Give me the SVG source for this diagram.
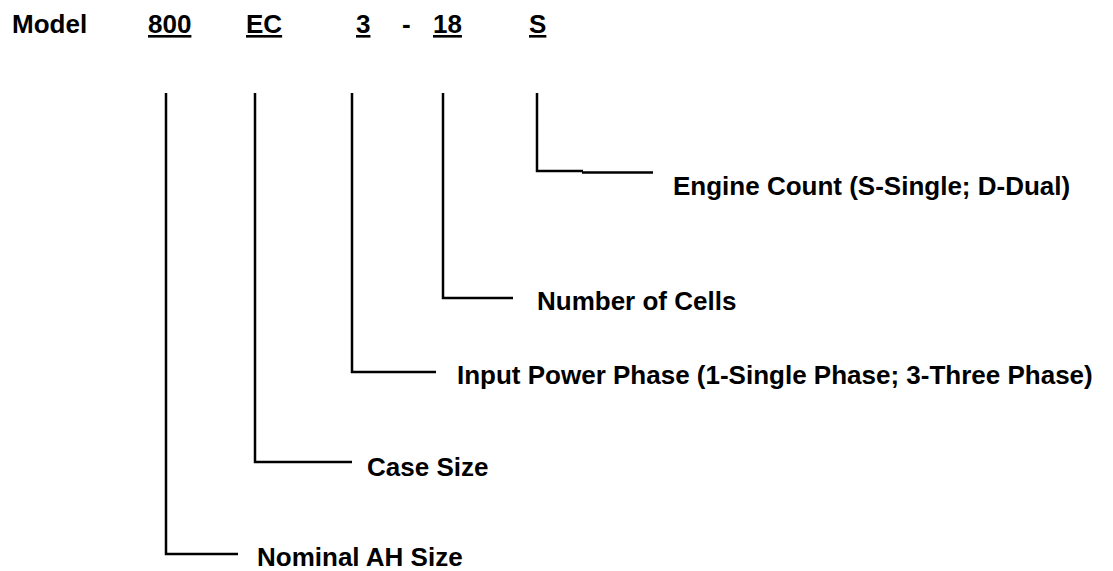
<svg xmlns="http://www.w3.org/2000/svg" width="1113" height="571" viewBox="0 0 1113 571">
<style>
text{font-family:"Liberation Sans",Arial,sans-serif;font-weight:bold;font-size:26px;fill:#000}
.u{text-decoration:underline}
.ln{fill:none;stroke:#000;stroke-width:2.5}
</style>
<rect width="1113" height="571" fill="#fff"/>
<g id="header">
<text x="12" y="33">Model</text>
<text x="148" y="33" class="u">800</text>
<text x="246" y="33" class="u">EC</text>
<text x="356" y="33" class="u">3</text>
<text x="402" y="33">-</text>
<text x="433" y="33" class="u">18</text>
<text x="529" y="33" class="u">S</text>
</g>
<g id="connectors">
<polyline class="ln" points="166,93 166,554 238,554"/>
<polyline class="ln" points="255,93 255,462 352,462"/>
<polyline class="ln" points="352,93 352,372 436,372"/>
<polyline class="ln" points="443,93 443,298 513,298"/>
<polyline class="ln" points="537,93 537,171 583,171"/>
<line class="ln" x1="582" y1="172.5" x2="653" y2="172.5"/>
</g>
<g id="nominal"><text x="257" y="566">Nominal AH Size</text></g>
<g id="case"><text x="367" y="476">Case Size</text></g>
<g id="phase"><text x="457" y="384">Input Power Phase (1-Single Phase; 3-Three Phase)</text></g>
<g id="cells"><text x="537" y="310">Number of Cells</text></g>
<g id="engine"><text x="673" y="195">Engine Count (S-Single; D-Dual)</text></g>
</svg>
